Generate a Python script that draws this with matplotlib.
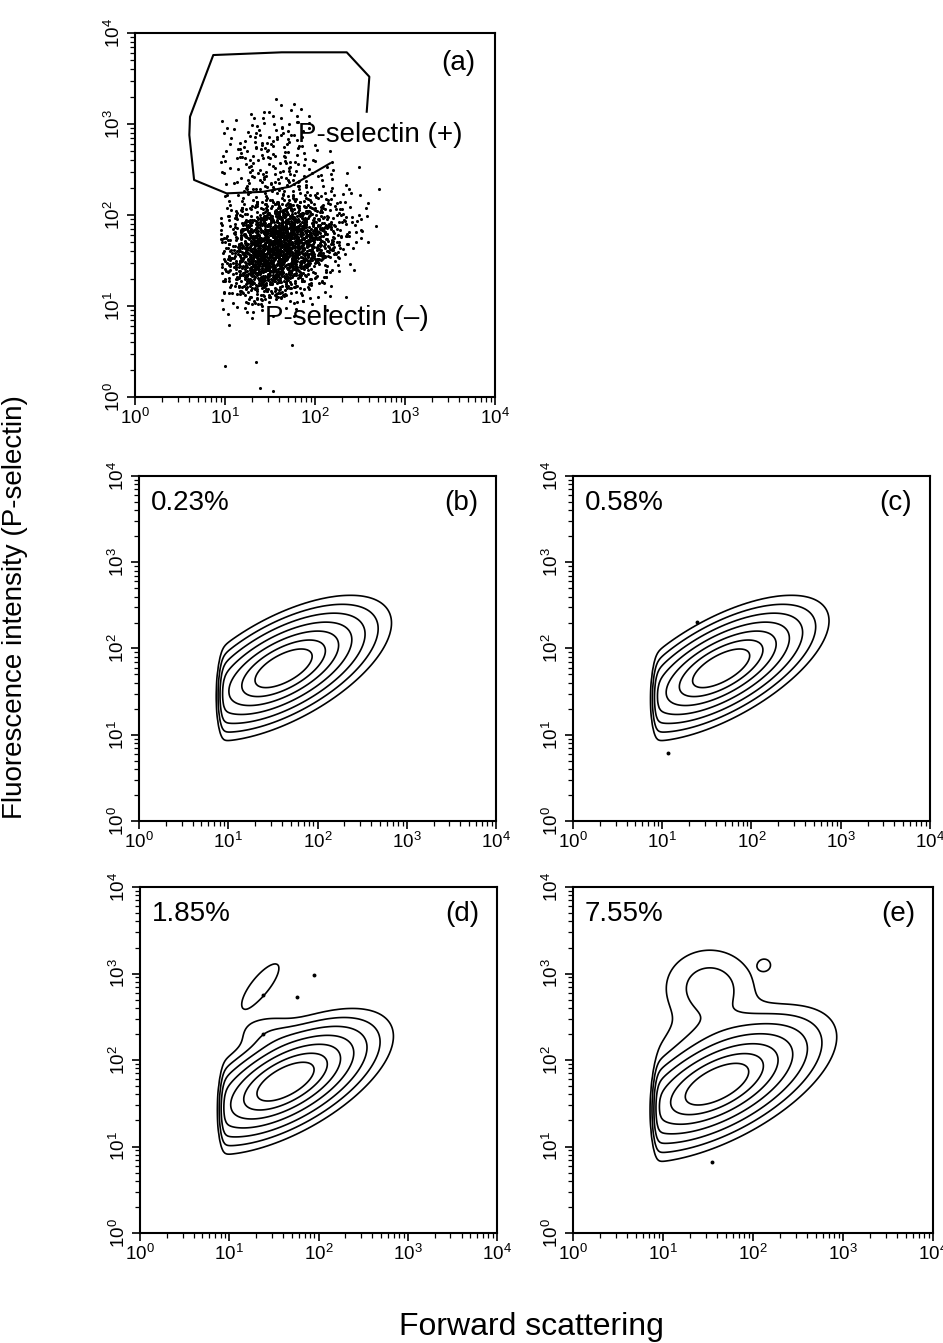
import numpy as np
import matplotlib
matplotlib.use("Agg")
import matplotlib.pyplot as plt
from matplotlib.ticker import LogLocator, NullFormatter

plt.rcParams['font.family'] = ['Liberation Sans', 'DejaVu Sans']
plt.rcParams['mathtext.fontset'] = 'custom'
plt.rcParams['mathtext.rm'] = 'Liberation Sans'
plt.rcParams['mathtext.it'] = 'Liberation Sans:italic'

decades = [1, 10, 100, 1000, 10000]
decade_labels = ['$10^{0}$', '$10^{1}$', '$10^{2}$', '$10^{3}$', '$10^{4}$']

# panel (a): events per 0.2-decade cell, log10 FSC columns, log10 FL rows (top row first)
fsc_edges = [0.95, 1.15, 1.35, 1.55, 1.75, 1.95, 2.15, 2.35, 2.55, 2.75]
fl_edges = [3.3, 3.1, 2.9, 2.7, 2.5, 2.3, 2.1, 1.9, 1.7, 1.5, 1.3, 1.1, 0.9]
cell_counts = [
    [0, 0, 2, 3, 3, 0, 0, 0, 0],
    [2, 4, 6, 8, 5, 0, 0, 0, 0],
    [5, 10, 12, 10, 6, 2, 0, 0, 0],
    [6, 10, 11, 11, 8, 4, 0, 0, 0],
    [5, 10, 12, 12, 10, 6, 4, 1, 0],
    [4, 10, 16, 20, 17, 11, 7, 4, 1],
    [10, 30, 50, 70, 60, 35, 15, 6, 1],
    [18, 60, 105, 135, 110, 60, 25, 8, 0],
    [25, 85, 135, 145, 110, 50, 15, 3, 0],
    [22, 75, 105, 90, 55, 20, 5, 0, 0],
    [12, 38, 50, 38, 16, 5, 2, 0, 0],
    [3, 6, 7, 5, 2, 2, 0, 0, 0],
]
stray_fsc = [10, 22, 24.5, 33.7, 56, 11, 17.4, 108, 390, 277]
stray_fl = [2.2, 2.4, 1.26, 1.17, 3.7, 6.2, 8.6, 12.6, 134, 77]

# gate drawn on panel (a)
gate_fsc = [375, 401, 225, 42.7, 7.4, 4.08, 4.01, 4.53, 10.4, 26.6, 52.7, 147]
gate_fl = [1365, 3310, 6140, 6140, 5730, 1202, 757, 243, 173, 180, 205, 370]

# panels (b)-(e): density components in log10 units (fsc, fl, sd_fsc, sd_fl, corr, weight)
panel_tags = ['(b)', '(c)', '(d)', '(e)']
panel_pct = ['0.23%', '0.58%', '1.85%', '7.55%']
panel_comps = [
    [(1.62, 1.77, 0.40, 0.28, 0.62, 1.0)],
    [(1.66, 1.77, 0.40, 0.28, 0.65, 1.0)],
    [(1.63, 1.75, 0.40, 0.28, 0.62, 1.0), (1.45, 2.3, 0.22, 0.14, 0.0, 0.021),
     (1.35, 2.86, 0.18, 0.22, 0.8, 0.02)],
    [(1.6, 1.72, 0.44, 0.3, 0.6, 1.0), (1.52, 2.83, 0.28, 0.255, 0.0, 0.046),
     (1.6, 2.3, 0.4, 0.2, 0.3, 0.022), (2.13, 3.1, 0.06, 0.06, 0.0, 0.016)],
]
fsc_cut = [0.92, 0.92, 0.92, 0.92]
levels = [0.0104, 0.030, 0.074, 0.161, 0.305, 0.504, 0.726]
dot_fsc = [[], [24.5, 11.7], [24, 57.5, 89, 24], [34.7]]
dot_fl = [[], [204, 6.2], [562, 537, 955, 200], [6.6]]


def style(ax):
    ax.set_xscale('log')
    ax.set_yscale('log')
    ax.set_xlim(1, 10000)
    ax.set_ylim(1, 10000)
    ax.set_xticks(decades)
    ax.set_xticklabels(decade_labels)
    ax.set_yticks(decades)
    ax.set_yticklabels(decade_labels, rotation=90, va='center')
    ax.xaxis.set_minor_locator(LogLocator(base=10, subs=np.arange(2, 10), numticks=20))
    ax.yaxis.set_minor_locator(LogLocator(base=10, subs=np.arange(2, 10), numticks=20))
    ax.xaxis.set_minor_formatter(NullFormatter())
    ax.yaxis.set_minor_formatter(NullFormatter())
    ax.tick_params(which='major', direction='out', length=6, width=1.2, labelsize=13.5, pad=2)
    ax.tick_params(which='minor', direction='out', length=3.5, width=0.9)
    for s in ax.spines.values():
        s.set_linewidth(1.5)


def mixture(lx, ly, comps, cut):
    z = np.zeros_like(lx)
    for mx, my, sx, sy, rho, w in comps:
        dx = (lx - mx) / sx
        dy = (ly - my) / sy
        q = (dx * dx - 2 * rho * dx * dy + dy * dy) / (1 - rho * rho)
        z += w * np.exp(-0.5 * q)
    return z / (1 + np.exp(-(lx - cut) / 0.02))


def halton(i, base):
    f, r = 1.0, 0.0
    while i > 0:
        f /= base
        r += f * (i % base)
        i //= base
    return r


fig = plt.figure(figsize=(9.43, 13.43), dpi=100)

# ---- panel (a): dot plot, each cell's events spread with a tent kernel
ax = fig.add_axes([0.1432, 0.7044, 0.3818, 0.2710])
xs, ys = [], []
n = 0
for i, row in enumerate(cell_counts):
    cy = 0.5 * (fl_edges[i] + fl_edges[i + 1])
    h = fl_edges[i] - fl_edges[i + 1]
    for j, cnt in enumerate(row):
        cx = 0.5 * (fsc_edges[j] + fsc_edges[j + 1])
        w = fsc_edges[j + 1] - fsc_edges[j]
        for k in range(cnt):
            n += 1
            u = [halton(n, b) for b in (2, 3, 5, 7)]
            lx = cx + w * (u[0] + u[1] - 1)
            ly = cy + h * (u[2] + u[3] - 1)
            if lx < fsc_edges[0]:
                lx = 2 * fsc_edges[0] - lx
            xs.append(10 ** lx)
            ys.append(10 ** ly)
ax.scatter(xs, ys, s=5, c='k', linewidths=0)
ax.scatter(stray_fsc, stray_fl, s=5, c='k', linewidths=0)
ax.plot(gate_fsc, gate_fl, 'k-', lw=1.5)
ax.text(65, 760, 'P-selectin (+)', fontsize=20, va='center', ha='left')
ax.text(28, 7.4, 'P-selectin (\u2013)', fontsize=20, va='center', ha='left')
ax.text(0.945, 0.918, '(a)', transform=ax.transAxes, fontsize=20, ha='right', va='center')
style(ax)

# ---- panels (b)-(e): contour plots
positions = [
    [0.1474, 0.3887, 0.3786, 0.2569],
    [0.6076, 0.3887, 0.3786, 0.2569],
    [0.1485, 0.0819, 0.3786, 0.2576],
    [0.6076, 0.0819, 0.3818, 0.2576],
]
g = np.linspace(0, 4, 241)
LX, LY = np.meshgrid(g, g)
for p in range(4):
    ax = fig.add_axes(positions[p])
    Z = mixture(LX, LY, panel_comps[p], fsc_cut[p])
    ax.contour(10 ** LX, 10 ** LY, Z, levels=levels, colors='k', linewidths=1.2)
    ax.scatter(dot_fsc[p], dot_fl[p], s=8, c='k', linewidths=0)
    ax.text(0.032, 0.922, panel_pct[p], transform=ax.transAxes, fontsize=20, ha='left', va='center')
    ax.text(0.95, 0.922, panel_tags[p], transform=ax.transAxes, fontsize=20, ha='right', va='center')
    style(ax)

fig.text(0.016, 0.548, 'Fluorescence intensity (P-selectin)', rotation=90, fontsize=20,
         ha='center', va='center')
fig.text(0.564, 0.006, 'Forward scattering', fontsize=23, ha='center', va='baseline')

fig.savefig('out.png', dpi=100)
